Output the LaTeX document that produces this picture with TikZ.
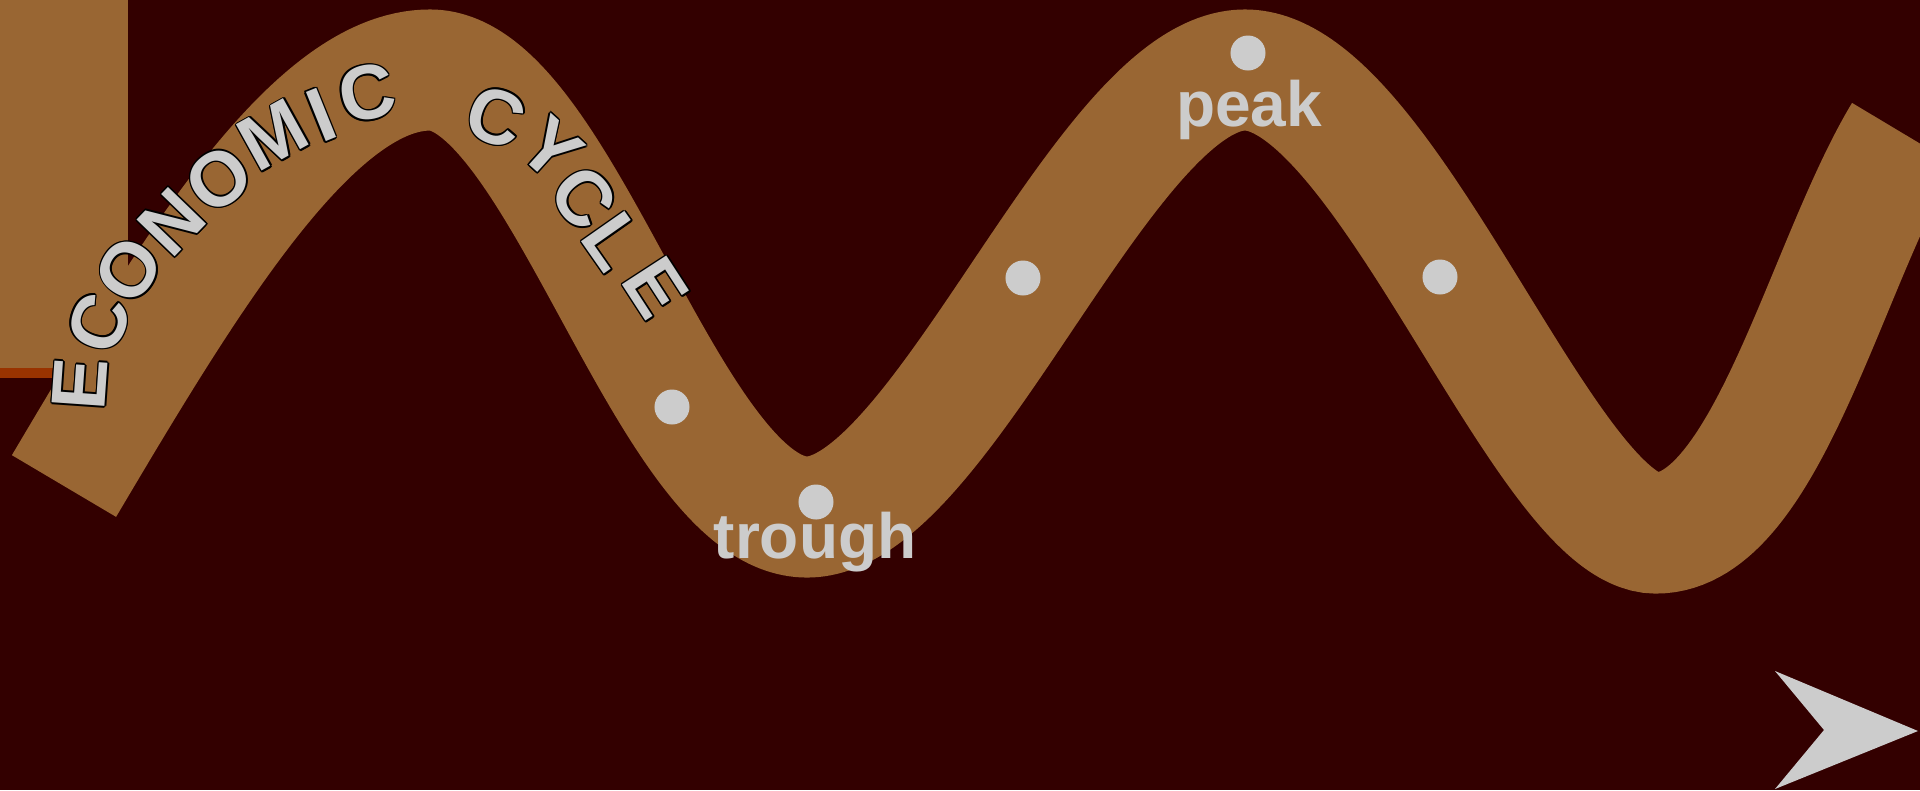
\documentclass[tikz,border=0pt]{standalone}
\usepackage{fontspec}
\setmainfont{Liberation Sans}
\definecolor{bgc}{HTML}{330000}
\definecolor{bandc}{HTML}{996633}
\definecolor{lt}{HTML}{CCCCCC}
\definecolor{rust}{HTML}{993300}
\newbox\olbox
\newcommand\olt[1]{%
  \setbox\olbox=\hbox{#1}%
  \leavevmode\rlap{\color{black}%
    \foreach \dx/\dy in {0.45/0,0.32/0.32,0/0.45,-0.32/0.32,-0.45/0,-0.32/-0.32,0/-0.45,0.32/-0.32}{%
      \rlap{\kern\dx pt\raise\dy pt\copy\olbox}}}%
  \copy\olbox}
\begin{document}
\begin{tikzpicture}[x=0.01cm,y=-0.01cm,
  letter/.style={text=lt, font=\fontsize{21.9pt}{24pt}\selectfont\bfseries, inner sep=0pt},
  lbl/.style={text=lt, font=\fontsize{18.2pt}{20pt}\selectfont\bfseries, inner sep=0pt, anchor=base},
  dot/.style={circle, fill=lt, minimum size=0.35cm, inner sep=0pt},
  wave/.style={draw=bandc, line width=1.21cm}]
\fill[bgc] (0,0) rectangle (1920,790);
\useasboundingbox (0,0) rectangle (1920,790);
\clip (0,0) rectangle (1920,790);
\fill[bandc] (0,0) rectangle (128,368);
\fill[rust] (0,368) rectangle (128,378);
\draw[wave] (64,486) .. controls (186,280) and (312,70) .. (430,70)
  .. controls (560,70) and (670,517) .. (807,517)
  .. controls (942,517) and (1105,70) .. (1245,70)
  .. controls (1385,70) and (1546,533) .. (1656,533)
  .. controls (1766,533) and (1826,263) .. (1904,134);
% arched title
\node[letter, rotate=86] (l1) at (80,384) {\olt{E}};
\node[letter, rotate=70] (l2) at (99,323) {\olt{C}};
\node[letter, rotate=57] (l3) at (129,270) {\olt{O}};
\node[letter, rotate=46] (l4) at (172,222) {\olt{N}};
\node[letter, rotate=38] (l5) at (219,179) {\olt{O}};
\node[letter, rotate=29] (l6) at (273,135) {\olt{M}};
\node[letter, rotate=22] (l7) at (321,115) {\olt{I}};
\node[letter, rotate=12] (l8) at (367,93) {\olt{C}};
\node[letter, rotate=-20] (l9) at (496,117) {\olt{C}};
\node[letter, rotate=-42] (l10) at (551,149) {\olt{Y}};
\node[letter, rotate=-50] (l11) at (584,198) {\olt{C}};
\node[letter, rotate=-55] (l12) at (614,242) {\olt{L}};
\node[letter, rotate=-57] (l13) at (656,288) {\olt{E}};
% dots
\node[dot] (d1) at (672,407) {};
\node[dot] (d2) at (816,502) {};
\node[dot] (d3) at (1023,278) {};
\node[dot] (d4) at (1248,53) {};
\node[dot] (d5) at (1440,277) {};
% labels
\node[lbl] (peak) at (1249,126) {peak};
\node[lbl] (trough) at (815,558) {trough};
% arrow head
\fill[lt] (1775,671) -- (1918,731) -- (1775,789) -- (1824,730) -- cycle;
\end{tikzpicture}
\end{document}
